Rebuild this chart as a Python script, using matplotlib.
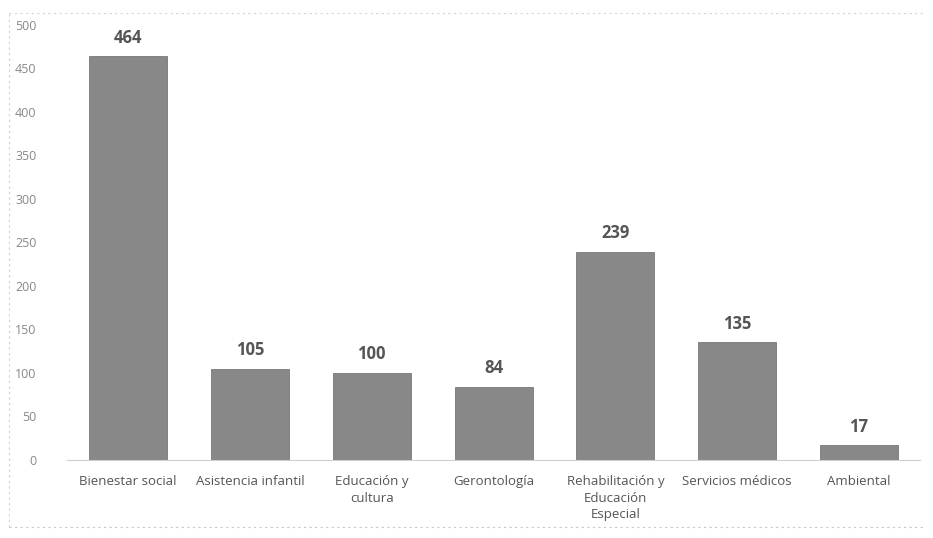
import numpy as np
import matplotlib.pyplot as plt

categorias = ['Bienestar social', 'Asistencia infantil', 'Educación y\ncultura',
              'Gerontología', 'Rehabilitación y\nEducación\nEspecial',
              'Servicios médicos', 'Ambiental']
valores = [464, 105, 100, 84, 239, 135, 17]
yticks = [0, 50, 100, 150, 200, 250, 300, 350, 400, 450, 500]

plt.rcParams['font.family'] = ['Open Sans', 'DejaVu Sans']

fig = plt.figure(figsize=(9.33, 5.38), dpi=100)
ax = fig.add_axes([0.072, 0.145, 0.914, 0.809])

x = np.arange(len(categorias))
barras = ax.bar(x, valores, width=0.64, color='#888888', edgecolor='#777777', linewidth=0.6)

for xi, v in zip(x, valores):
    ax.text(xi, v + 11, str(v), ha='center', va='bottom', fontsize=12,
            fontweight='bold', color='#555555')

ax.set_xlim(-0.5, len(categorias) - 0.5)
ax.set_ylim(0, 500)
ax.set_yticks(yticks)
ax.set_xticks(x)
ax.set_xticklabels(categorias, fontsize=9.5, color='#555555', linespacing=1.35)
ax.tick_params(axis='y', labelsize=9, labelcolor='#888888', length=0, pad=22)
ax.tick_params(axis='x', length=0, pad=11)

for lado in ['top', 'right', 'left']:
    ax.spines[lado].set_visible(False)
ax.spines['bottom'].set_color('#cfcfcf')
ax.spines['bottom'].set_linewidth(0.8)

# bordes punteados del recuadro escaneado
fig.add_artist(plt.Line2D([0.01, 0.01], [0.02, 0.98], color='#d0d0d0', lw=0.8, ls=(0, (2, 3))))
fig.add_artist(plt.Line2D([0.01, 0.99], [0.975, 0.975], color='#d5d5d5', lw=0.8, ls=(0, (2, 3))))
fig.add_artist(plt.Line2D([0.01, 0.99], [0.02, 0.02], color='#c8c8c8', lw=0.8, ls=(0, (2, 3))))

fig.savefig('out.png', dpi=100)
